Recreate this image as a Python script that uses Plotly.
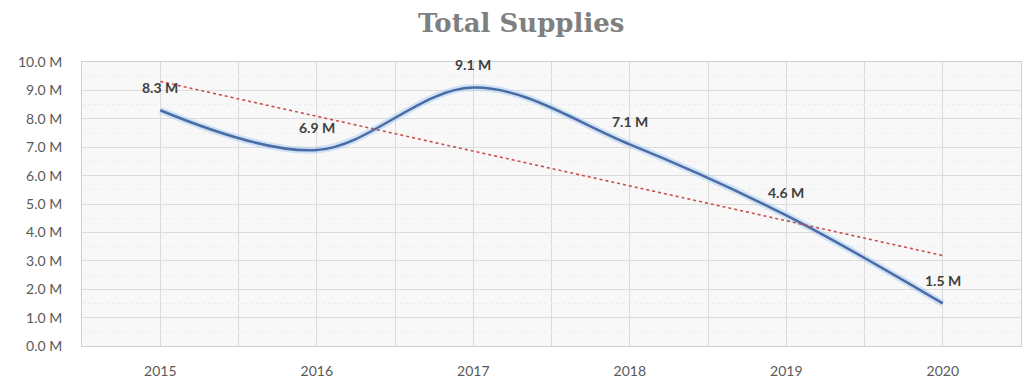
import numpy as np
import plotly.graph_objects as go

# Total supplies per year, in millions
years = ["2015", "2016", "2017", "2018", "2019", "2020"]
supplies_m = [8.3, 6.9, 9.1, 7.1, 4.6, 1.5]
y_ticks = [0, 1, 2, 3, 4, 5, 6, 7, 8, 9, 10]
y_tick_text = [f"{v:.1f} M" for v in y_ticks]

x_pos = list(range(len(years)))

# Linear trendline fitted through the yearly values
slope, intercept = np.polyfit(x_pos, supplies_m, 1)
trend_y = [intercept + slope * x for x in x_pos]

fig = go.Figure()

# soft halo under the main line
fig.add_trace(go.Scatter(
    x=x_pos, y=supplies_m, mode="lines",
    line=dict(color="rgba(160,200,240,0.45)", width=7, shape="spline", smoothing=1.0),
    hoverinfo="skip", showlegend=False,
))
fig.add_trace(go.Scatter(
    x=x_pos, y=supplies_m, mode="lines",
    line=dict(color="#4a6ca6", width=2.5, shape="spline", smoothing=1.0),
    name="Total Supplies", showlegend=False,
))
fig.add_trace(go.Scatter(
    x=x_pos, y=trend_y, mode="lines",
    line=dict(color="#c8504d", width=1.6, dash="dot"),
    name="Linear trend", showlegend=False,
))

for xp, v in zip(x_pos, supplies_m):
    fig.add_annotation(
        x=xp, y=v, text=f"{v:.1f} M", showarrow=False, yshift=23,
        font=dict(family="Lato, Open Sans, sans-serif", size=14, color="#404040", weight="bold"),
    )

fig.update_layout(
    width=1026, height=383,
    margin=dict(l=82, r=4, t=62, b=35),
    paper_bgcolor="white",
    plot_bgcolor="#f8f8f8",
    title=dict(
        text="<b>Total Supplies</b>", x=0.508, xanchor="center", y=0.94, yanchor="middle",
        font=dict(family="DejaVu Serif, serif", size=26, color="#7f7f7f"),
    ),
    showlegend=False,
)

fig.update_xaxes(
    range=[-0.5, 5.5], tickvals=x_pos, ticktext=years,
    showgrid=True, gridcolor="#dcdcdc", gridwidth=1,
    minor=dict(tick0=-0.5, dtick=1, showgrid=True, gridcolor="#dcdcdc", gridwidth=1),
    showline=True, linecolor="#d0d0d0", mirror=True,
    ticks="", ticklabelstandoff=12, zeroline=False,
    tickfont=dict(family="Lato, Open Sans, sans-serif", size=14, color="#595959"),
)
fig.update_yaxes(
    range=[0, 10], tickvals=y_ticks, ticktext=y_tick_text,
    showgrid=True, gridcolor="#dcdcdc", gridwidth=1,
    minor=dict(dtick=0.5, showgrid=True, gridcolor="#ececec", gridwidth=1, griddash="dot"),
    showline=True, linecolor="#d0d0d0", mirror=True,
    ticks="", ticklabelstandoff=16, zeroline=False,
    tickfont=dict(family="Lato, Open Sans, sans-serif", size=14, color="#595959"),
)

fig.write_html("out.html")
